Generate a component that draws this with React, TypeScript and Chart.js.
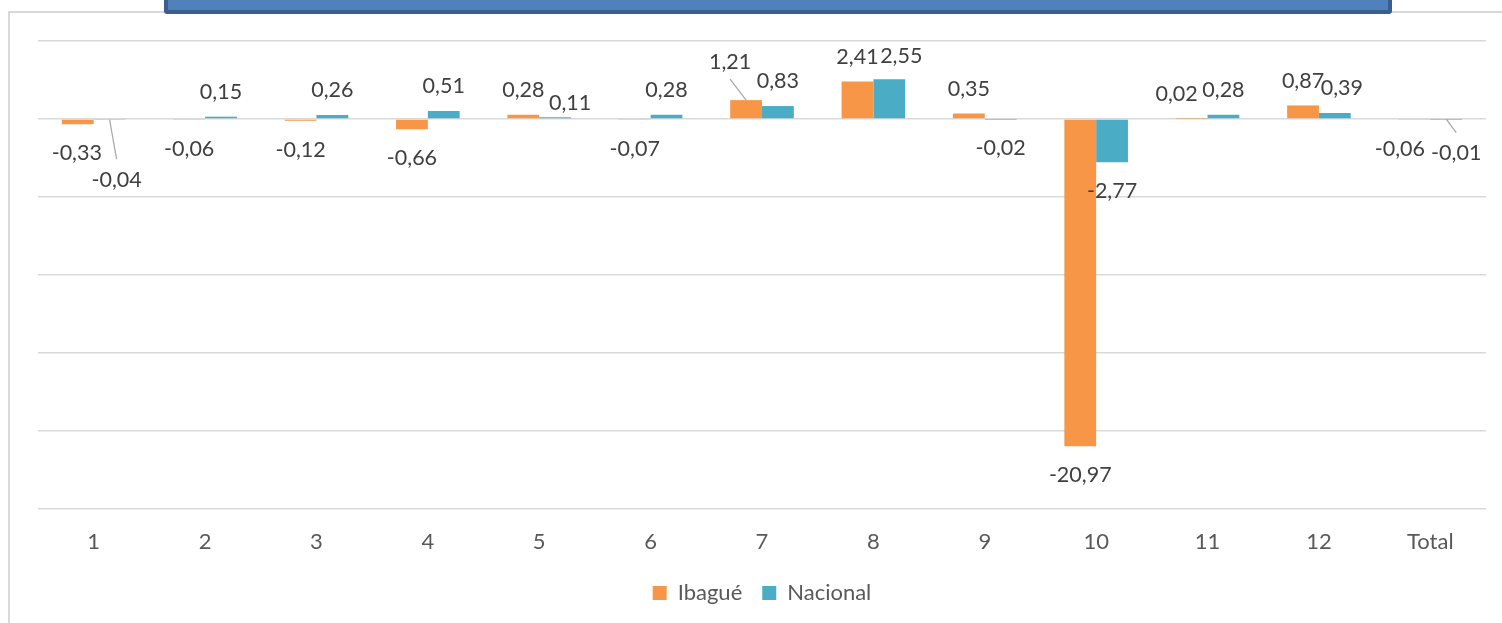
import React, { useEffect, useRef } from "react";
import { Chart, registerables } from "chart.js";

Chart.register(...registerables);

const categories = ["1", "2", "3", "4", "5", "6", "7", "8", "9", "10", "11", "12", "Total"];
const ibague = [-0.33, -0.06, -0.12, -0.66, 0.28, -0.07, 1.21, 2.41, 0.35, -20.97, 0.02, 0.87, -0.06];
const nacional = [-0.04, 0.15, 0.26, 0.51, 0.11, 0.28, 0.83, 2.55, -0.02, -2.77, 0.28, 0.39, -0.01];
const seriesNames = ["Ibagué", "Nacional"];
const yMin = -25;
const yMax = 5;
const yStep = 5;

// label nudges (dataset-index) relative to the default outside-end position
const labelAdjust: Record<string, { dx: number; dy: number; leader?: boolean }> = {
  "0-0": { dx: -1, dy: 0 },
  "0-6": { dx: -16, dy: -13.5, leader: true },
  "0-10": { dx: -15, dy: 0 },
  "0-12": { dx: -14.5, dy: 0 },
  "1-0": { dx: 7, dy: 31, leader: true },
  "1-4": { dx: 15, dy: 10 },
  "1-7": { dx: 12, dy: 1 },
  "1-11": { dx: 7, dy: 0 },
  "1-12": { dx: 10, dy: 5, leader: true },
};

const FONT = "Lato, 'Open Sans', sans-serif";

const fmt = (v: number) => v.toFixed(2).replace(".", ",");

const dataLabelPlugin = {
  id: "dataLabels",
  afterDatasetsDraw(chart: any) {
    const ctx = chart.ctx as CanvasRenderingContext2D;
    ctx.save();
    ctx.font = `21.5px ${FONT}`;
    ctx.textAlign = "center";
    ctx.textBaseline = "middle";
    chart.data.datasets.forEach((ds: any, di: number) => {
      const meta = chart.getDatasetMeta(di);
      meta.data.forEach((el: any, i: number) => {
        const v = ds.data[i] as number;
        const adj = labelAdjust[`${di}-${i}`] || { dx: 0, dy: 0 };
        const below = v < 0;
        const lx = el.x + adj.dx;
        const ly = (below ? el.y + 29 : el.y - 24.5) + adj.dy;
        if (adj.leader) {
          ctx.strokeStyle = "#a6a6a6";
          ctx.lineWidth = 1.2;
          ctx.beginPath();
          ctx.moveTo(el.x, el.y);
          ctx.lineTo(lx, below ? ly - 20.5 : ly + 17);
          ctx.stroke();
        }
        ctx.fillStyle = "#404040";
        ctx.fillText(fmt(v), lx, ly);
      });
    });
    ctx.restore();
  },
};

export default function App() {
  const ref = useRef<HTMLCanvasElement | null>(null);

  useEffect(() => {
    if (!ref.current) return;
    const chart = new Chart(ref.current, {
      type: "bar",
      data: {
        labels: categories,
        datasets: [
          {
            label: seriesNames[0],
            data: ibague,
            backgroundColor: "#f79646",
            categoryPercentage: 0.571,
            barPercentage: 1,
          },
          {
            label: seriesNames[1],
            data: nacional,
            backgroundColor: "#4bacc6",
            categoryPercentage: 0.571,
            barPercentage: 1,
          },
        ],
      },
      options: {
        animation: false,
        responsive: false,
        maintainAspectRatio: false,
        layout: { padding: { top: 41, left: 38, right: 16, bottom: 9 } },
        scales: {
          x: {
            grid: { display: false, drawTicks: false },
            border: { display: false },
            ticks: { color: "#595959", font: { size: 22, family: FONT }, padding: 20 },
            afterFit: (scale: any) => {
              scale.height = 53;
            },
          },
          y: {
            min: yMin,
            max: yMax,
            ticks: { display: false, stepSize: yStep },
            grid: { color: "#d9d9d9", lineWidth: 1.5, drawTicks: false },
            border: { display: false },
            afterFit: (scale: any) => {
              scale.width = 0;
            },
          },
        },
        plugins: {
          legend: {
            position: "bottom",
            labels: {
              boxWidth: 14,
              boxHeight: 14,
              padding: 20,
              color: "#595959",
              font: { size: 22, family: FONT },
            },
          },
          tooltip: { enabled: false },
        },
      },
      plugins: [dataLabelPlugin],
    });
    return () => chart.destroy();
  }, []);

  return (
    <div style={{ position: "absolute", left: 0, top: 0, width: 1502, height: 623, overflow: "hidden", background: "#fff" }}>
      <div
        style={{
          position: "absolute",
          left: 8,
          top: 11,
          width: 1520,
          height: 640,
          border: "2px solid #d9d9d9",
          boxSizing: "border-box",
        }}
      />
      <canvas ref={ref} width={1502} height={623} style={{ position: "absolute", left: 0, top: 0 }} />
      <div
        style={{
          position: "absolute",
          left: 164,
          top: -12,
          width: 1228,
          height: 26,
          background: "#4f81bd",
          border: "4px solid #3a5f8e",
          borderRadius: 3,
          boxSizing: "border-box",
        }}
      />
    </div>
  );
}
